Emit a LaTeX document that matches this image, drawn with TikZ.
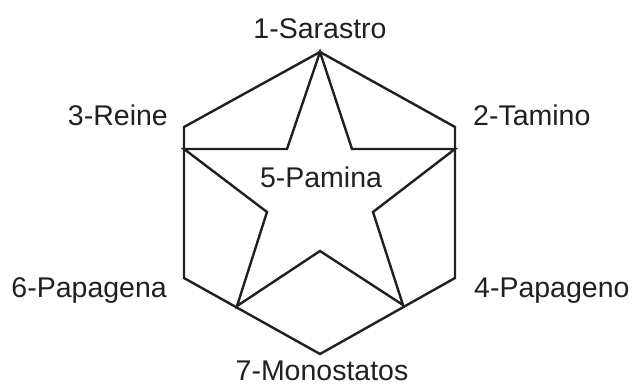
\documentclass[tikz,border=0pt]{standalone}
\usepackage{fontspec}
\setmainfont{Liberation Sans}
\definecolor{ink}{HTML}{231F20}
\begin{document}
\begin{tikzpicture}[x=1pt,y=-1pt,
  edge/.style={draw=ink,line width=2.4pt,line join=miter},
  lbl/.style={text=ink,font=\fontsize{28.5}{31}\selectfont,inner sep=0pt}]
\useasboundingbox (0,0) rectangle (635,388);
% hexagon
\coordinate (hT) at (320,52);
\coordinate (hUL) at (184,127);
\coordinate (hLL) at (184,278);
\coordinate (hB) at (320,354);
\coordinate (hLR) at (455,278);
\coordinate (hUR) at (455,127);
% star
\coordinate (sL) at (184,149);
\coordinate (sR) at (455,149);
\coordinate (iTL) at (287,149);
\coordinate (iTR) at (352,149);
\coordinate (iL) at (267,212);
\coordinate (iR) at (373,212);
\coordinate (iB) at (320,251);
\coordinate (sLL) at (237,306);
\coordinate (sLR) at (403,305);
\draw[edge] (hT) -- (hUL) -- (hLL) -- (hB) -- (hLR) -- (hUR) -- cycle;
\draw[edge] (hT) -- (iTR) -- (sR) -- (iR) -- (sLR) -- (iB) -- (sLL) -- (iL) -- (sL) -- (iTL) -- cycle;
% labels
\node[lbl,anchor=base] (n1) at (320,38) {1-Sarastro};
\node[lbl,anchor=base west] (n2) at (473,125) {2-Tamino};
\node[lbl,anchor=base east] (n3) at (168,125) {3-Reine};
\node[lbl,anchor=base west] (n4) at (474,297) {4-Papageno};
\node[lbl,anchor=base] (n5) at (321,187) {5-Pamina};
\node[lbl,anchor=base east] (n6) at (167,297) {6-Papagena};
\node[lbl,anchor=base] (n7) at (322,380) {7-Monostatos};
\end{tikzpicture}
\end{document}
